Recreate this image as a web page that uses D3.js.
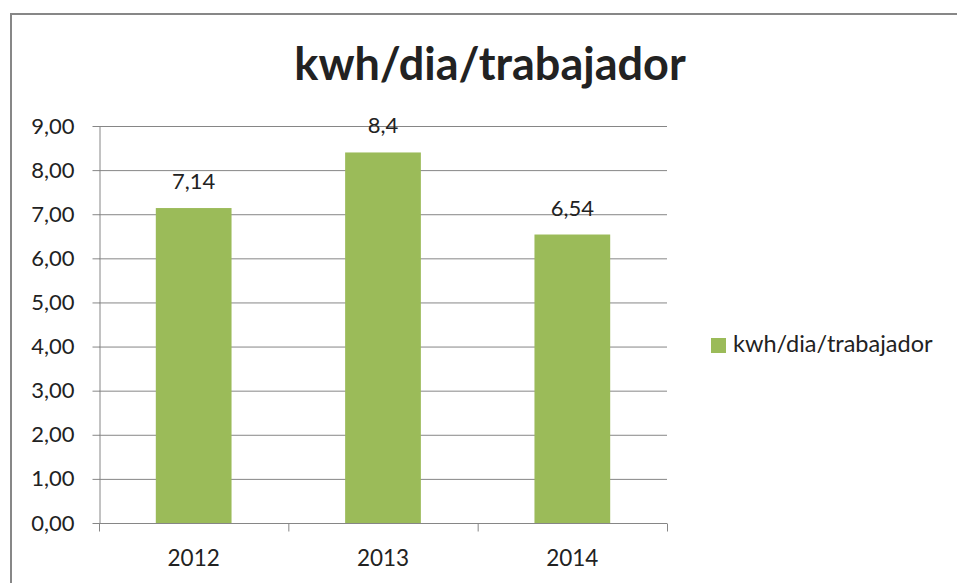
<!DOCTYPE html>
<html><head><meta charset="utf-8">
<script src="https://cdn.jsdelivr.net/npm/d3@7"></script>
<style>body{margin:0;background:#fff}svg{display:block}text{font-family:Lato,"Open Sans",sans-serif;fill:#222}</style>
</head><body><div id="c"></div>
<script>
const categories = ["2012","2013","2014"];
const values = [7.14, 8.4, 6.54];
const valueLabels = ["7,14","8,4","6,54"];
const yTicks = [0,1,2,3,4,5,6,7,8,9];
const seriesName = "kwh/dia/trabajador";
const title = "kwh/dia/trabajador";

(function(){
const W=957,H=583;
const svg=d3.select("#c").append("svg").attr("width",W).attr("height",H);
svg.append("rect").attr("x",11).attr("y",14).attr("width",960).attr("height",600)
  .attr("fill","#fff").attr("stroke","#878787").attr("stroke-width",2);

const pl=99,pr=667,pt=126,pb=523;
const x=d3.scaleBand().domain(categories).range([pl,pr]).paddingInner(0.6).paddingOuter(0.3);
const xb=d3.scaleBand().domain(categories).range([pl,pr]);
const y=d3.scaleLinear().domain([0,9]).range([pb,pt]);

svg.append("g").selectAll("line").data(yTicks.slice(1)).join("line")
  .attr("x1",pl).attr("x2",pr).attr("y1",d=>y(d)+0.5).attr("y2",d=>y(d)+0.5)
  .attr("stroke","#868686").attr("stroke-width",1);

const ya=svg.append("g").attr("transform",`translate(${pl+0.5},0)`)
  .call(d3.axisLeft(y).tickValues(yTicks).tickSize(7).tickSizeOuter(0).tickPadding(18)
    .tickFormat(d=>d3.format(".2f")(d).replace(".",",")));
ya.select(".domain").attr("stroke","#868686");
ya.selectAll(".tick line").attr("stroke","#868686");
ya.selectAll(".tick text").attr("font-size",22).attr("fill","#222").attr("font-family","Lato");

svg.append("g").selectAll("rect").data(values).join("rect")
  .attr("x",(d,i)=>x(categories[i])).attr("width",x.bandwidth())
  .attr("y",d=>y(d)).attr("height",d=>pb-y(d)).attr("fill","#9BBB59");

const xa=svg.append("g").attr("transform",`translate(0,${pb+0.5})`);
xa.append("line").attr("x1",pl).attr("x2",pr).attr("stroke","#868686");
xa.selectAll(".tk").data([...categories.map(c=>xb(c)),pr]).join("line")
  .attr("x1",d=>d+0.5).attr("x2",d=>d+0.5).attr("y1",0).attr("y2",8).attr("stroke","#868686");
xa.selectAll("text").data(categories).join("text")
  .attr("x",d=>xb(d)+xb.bandwidth()/2).attr("y",42).attr("text-anchor","middle")
  .attr("font-size",22.5).text(d=>d);

svg.append("g").selectAll("text").data(values).join("text")
  .attr("x",(d,i)=>x(categories[i])+x.bandwidth()/2).attr("y",d=>y(d)-19)
  .attr("text-anchor","middle").attr("font-size",22).text((d,i)=>valueLabels[i]);

svg.append("text").attr("x",490).attr("y",80).attr("text-anchor","middle")
  .attr("font-size",45).attr("font-weight","bold").attr("fill","#000").text(title);

svg.append("rect").attr("x",711).attr("y",338).attr("width",15).attr("height",15).attr("fill","#9BBB59");
svg.append("text").attr("x",733).attr("y",352).attr("font-size",23.5).text(seriesName);
})();
</script></body></html>
